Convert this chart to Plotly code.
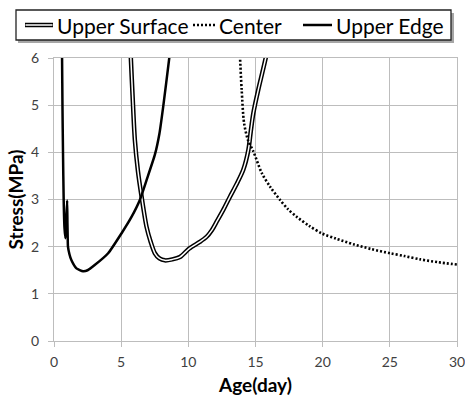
import plotly.graph_objects as go

# ---- data ----
surface_x = [5.68, 5.72, 5.85, 6.02, 6.25, 6.52, 6.89, 7.2, 7.51, 7.85, 8.25, 8.8, 9.37, 10.07, 10.85, 11.36, 11.75, 12.11, 12.6, 13.1, 13.6, 14.09, 14.47, 14.65, 14.84, 15.21, 15.5, 15.76, 15.9]
surface_y = [6.3, 6.0, 5.2, 4.26, 3.6, 3.06, 2.42, 2.1, 1.86, 1.75, 1.71, 1.73, 1.78, 1.96, 2.1, 2.21, 2.35, 2.53, 2.78, 3.06, 3.33, 3.63, 4.05, 4.45, 4.83, 5.33, 5.68, 6.0, 6.2]

center_x = [13.8, 13.85, 13.97, 14.15, 14.45, 14.84, 15.47, 16.09, 16.83, 17.4, 18.08, 19.0, 19.94, 21.0, 22.3, 23.6, 25.03, 26.1, 27.27, 28.6, 30.0]
center_y = [6.3, 6.0, 5.33, 4.62, 4.25, 4.02, 3.56, 3.27, 2.99, 2.8, 2.63, 2.44, 2.28, 2.17, 2.05, 1.95, 1.86, 1.8, 1.73, 1.67, 1.62]

edge_x = [0.58, 0.6, 0.63, 0.67, 0.72, 0.78, 0.85, 0.9, 0.98, 1.0, 1.02, 1.04, 1.15, 1.3, 1.67, 2.16, 2.5, 3.03, 4.03, 5.02, 5.77, 6.39, 6.89, 7.51, 7.85, 8.13, 8.58, 8.65]
edge_y = [6.3, 6.0, 5.0, 4.0, 3.0, 2.4, 2.18, 2.5, 2.98, 2.5, 2.2, 2.0, 1.84, 1.71, 1.54, 1.48, 1.5, 1.61, 1.86, 2.28, 2.63, 2.99, 3.41, 3.95, 4.4, 4.97, 6.0, 6.2]

x_ticks = [0, 5, 10, 15, 20, 25, 30]
y_ticks = [0, 1, 2, 3, 4, 5, 6]
legend_names = ["Upper Surface", "Center", "Upper Edge"]

W, H = 465, 396
L, R, T, B = 54, 457, 58, 341

fig = go.Figure()
fig.add_trace(go.Scatter(x=surface_x, y=surface_y, mode="lines",
                         line=dict(color="black", width=4.5, shape="spline", smoothing=0.8),
                         showlegend=False, hoverinfo="skip"))
fig.add_trace(go.Scatter(x=surface_x, y=surface_y, mode="lines",
                         line=dict(color="white", width=1.5, shape="spline", smoothing=0.8),
                         showlegend=False, hoverinfo="skip"))
fig.add_trace(go.Scatter(x=center_x, y=center_y, mode="lines",
                         line=dict(color="black", width=2.6, dash="2px,2px", shape="spline", smoothing=0.8),
                         showlegend=False))
fig.add_trace(go.Scatter(x=edge_x, y=edge_y, mode="lines",
                         line=dict(color="black", width=2.5, shape="spline", smoothing=0.5),
                         showlegend=False))

def px(xp):
    return (xp - L) / (R - L)

def py(yp):
    return (B - yp) / (B - T)

shapes = []
shapes.append(dict(type="rect", xref="paper", yref="paper", x0=px(18), x1=px(454), y0=py(13), y1=py(43),
                   line=dict(width=0), fillcolor="rgba(0,0,0,0.35)", layer="above"))
shapes.append(dict(type="rect", xref="paper", yref="paper", x0=px(16), x1=px(451), y0=py(10), y1=py(40),
                   line=dict(color="#222222", width=1.3), fillcolor="white", layer="above"))
ly = py(25)
shapes.append(dict(type="line", xref="paper", yref="paper", x0=px(25), x1=px(53), y0=ly, y1=ly,
                   line=dict(color="black", width=4.5), layer="above"))
shapes.append(dict(type="line", xref="paper", yref="paper", x0=px(25.5), x1=px(52.5), y0=ly, y1=ly,
                   line=dict(color="white", width=1.5), layer="above"))
shapes.append(dict(type="line", xref="paper", yref="paper", x0=px(193), x1=px(216), y0=ly, y1=ly,
                   line=dict(color="black", width=2.6, dash="2px,2px"), layer="above"))
shapes.append(dict(type="line", xref="paper", yref="paper", x0=px(303), x1=px(332), y0=ly, y1=ly,
                   line=dict(color="black", width=2.5), layer="above"))

font_family = "Lato, 'Open Sans', sans-serif"
annotations = []
for name, xs in zip(legend_names, [55, 217, 334]):
    annotations.append(dict(text=name, xref="paper", yref="paper", x=px(xs), y=py(25.5),
                            xanchor="left", yanchor="middle", showarrow=False,
                            font=dict(size=21, color="black", family=font_family)))

fig.update_layout(
    width=W, height=H,
    margin=dict(l=L, r=W - R, t=T, b=H - B, pad=0, autoexpand=False),
    paper_bgcolor="white", plot_bgcolor="white",
    shapes=shapes, annotations=annotations,
    font=dict(family=font_family),
    xaxis=dict(range=[0, 30], tickvals=x_ticks, ticktext=[str(v) for v in x_ticks],
               automargin=False, ticklabeloverflow="allow",
               showgrid=True, gridcolor="#bdbdbd", gridwidth=1,
               showline=True, linecolor="#bdbdbd", linewidth=1.3, mirror=True,
               zeroline=False, ticks="outside", ticklen=5, tickcolor="#bdbdbd",
               ticklabelstandoff=3,
               tickfont=dict(size=14, color="#404040"),
               title=dict(text="<b>Age(day)</b>", font=dict(size=19, color="black"), standoff=10)),
    yaxis=dict(range=[0, 6], tickvals=y_ticks, ticktext=[str(v) for v in y_ticks],
               automargin=False, ticklabeloverflow="allow",
               showgrid=True, gridcolor="#bdbdbd", gridwidth=1,
               showline=True, linecolor="#bdbdbd", linewidth=1, mirror=True,
               zeroline=False, ticks="outside", ticklen=5, tickcolor="#bdbdbd",
               ticklabelstandoff=6,
               tickfont=dict(size=14, color="#404040"),
               title=dict(text="<b>Stress(MPa)</b>", font=dict(size=19, color="black"), standoff=2)),
)

fig.write_html("out.html")
